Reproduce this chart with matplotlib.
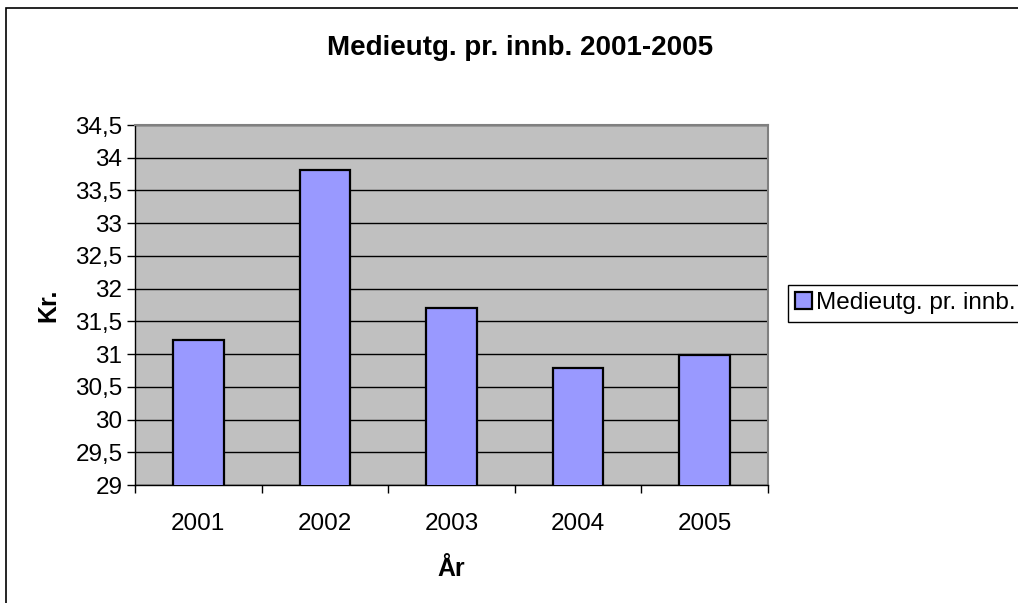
import matplotlib.pyplot as plt
import numpy as np
from matplotlib.patches import Rectangle

years = ['2001', '2002', '2003', '2004', '2005']
values = [31.22, 33.81, 31.70, 30.79, 30.98]
yticks = [29, 29.5, 30, 30.5, 31, 31.5, 32, 32.5, 33, 33.5, 34, 34.5]
series_name = 'Medieutg. pr. innb.'

plt.rcParams['font.family'] = ['Liberation Sans', 'DejaVu Sans']

fig = plt.figure(figsize=(10.18, 6.03), dpi=100)
W, H = 1018, 603

# outer chart border
fig.patches.append(Rectangle((6 / W, -0.1), 1.2, 1.1 - 8 / H, transform=fig.transFigure,
                             fill=False, edgecolor='black', linewidth=1.2))

ax = fig.add_axes([135 / W, 1 - 485 / H, 633 / W, 360 / H])
ax.set_facecolor('#C0C0C0')

x = np.arange(len(years)) + 0.5
ax.bar(x, values, width=0.4, bottom=0, color='#9999FF', edgecolor='black',
       linewidth=1.6, label=series_name, zorder=3)

ax.set_ylim(29, 34.5)
ax.set_xlim(0, len(years))
ax.set_yticks(yticks)
ax.set_yticklabels([('%g' % t).replace('.', ',') for t in yticks], fontsize=17.5)
ax.yaxis.grid(True, color='black', linewidth=1.0, zorder=1)
ax.set_axisbelow(True)

# ticks at category boundaries, labels in the middle
ax.set_xticks(np.arange(len(years) + 1))
ax.set_xticklabels([])
ax.set_xticks(x, minor=True)
ax.set_xticklabels(years, minor=True, fontsize=17.5)
ax.tick_params(axis='x', which='major', length=6, width=1, direction='out')
ax.tick_params(axis='x', which='minor', length=0, pad=20)
ax.tick_params(axis='y', length=6, width=1, direction='out', pad=3)

for s in ['left', 'bottom']:
    ax.spines[s].set_color('black')
    ax.spines[s].set_linewidth(1.0)
for s in ['top', 'right']:
    ax.spines[s].set_color('#808080')
    ax.spines[s].set_linewidth(1.5)

ax.set_xlabel('År', fontsize=18, fontweight='bold', labelpad=16)
ax.set_ylabel('Kr.', fontsize=18, fontweight='bold', labelpad=11)

fig.text(520 / W, 1 - 48 / H, 'Medieutg. pr. innb. 2001-2005', ha='center', va='center',
         fontsize=20, fontweight='bold')

leg = fig.legend(loc='upper left', bbox_to_anchor=(788 / W, 1 - 285 / H), fontsize=17.5,
                 frameon=True, fancybox=False, edgecolor='black', framealpha=1,
                 handlelength=0.7, handleheight=0.7, handletextpad=0.15,
                 borderpad=0.3, borderaxespad=0)
leg.get_frame().set_linewidth(1.0)

fig.savefig('out.png', dpi=100)
